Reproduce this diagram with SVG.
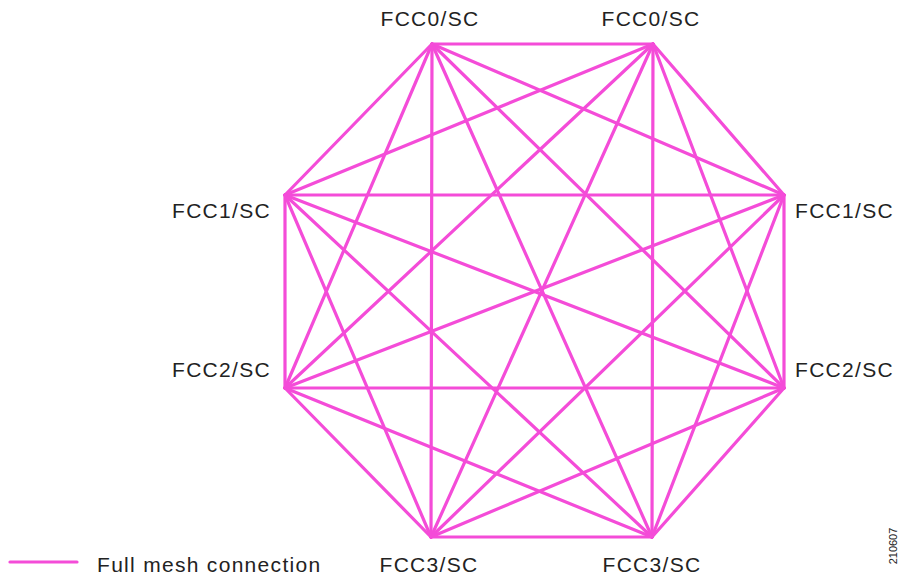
<svg xmlns="http://www.w3.org/2000/svg" width="901" height="577" viewBox="0 0 901 577">
<style>
.e{stroke:#f44cd8;stroke-width:3.2;stroke-linecap:round;fill:none}
.t{font-family:"Liberation Sans",Arial,sans-serif;font-size:21px;fill:#222;letter-spacing:1.3px}
</style>
<rect width="901" height="577" fill="#fff"/>
<g id="connectors">
<line class="e" x1="432" y1="44" x2="653" y2="44"/>
<line class="e" x1="432" y1="44" x2="784" y2="195"/>
<line class="e" x1="432" y1="44" x2="784" y2="388"/>
<line class="e" x1="432" y1="44" x2="652" y2="537"/>
<line class="e" x1="432" y1="44" x2="431" y2="537"/>
<line class="e" x1="432" y1="44" x2="285" y2="388"/>
<line class="e" x1="432" y1="44" x2="285" y2="195"/>
<line class="e" x1="653" y1="44" x2="784" y2="195"/>
<line class="e" x1="653" y1="44" x2="784" y2="388"/>
<line class="e" x1="653" y1="44" x2="652" y2="537"/>
<line class="e" x1="653" y1="44" x2="431" y2="537"/>
<line class="e" x1="653" y1="44" x2="285" y2="388"/>
<line class="e" x1="653" y1="44" x2="285" y2="195"/>
<line class="e" x1="784" y1="195" x2="784" y2="388"/>
<line class="e" x1="784" y1="195" x2="652" y2="537"/>
<line class="e" x1="784" y1="195" x2="431" y2="537"/>
<line class="e" x1="784" y1="195" x2="285" y2="388"/>
<line class="e" x1="784" y1="195" x2="285" y2="195"/>
<line class="e" x1="784" y1="388" x2="652" y2="537"/>
<line class="e" x1="784" y1="388" x2="431" y2="537"/>
<line class="e" x1="784" y1="388" x2="285" y2="388"/>
<line class="e" x1="784" y1="388" x2="285" y2="195"/>
<line class="e" x1="652" y1="537" x2="431" y2="537"/>
<line class="e" x1="652" y1="537" x2="285" y2="388"/>
<line class="e" x1="652" y1="537" x2="285" y2="195"/>
<line class="e" x1="431" y1="537" x2="285" y2="388"/>
<line class="e" x1="431" y1="537" x2="285" y2="195"/>
<line class="e" x1="285" y1="388" x2="285" y2="195"/>
</g>
<g id="n-fcc0-a"><text class="t" x="430" y="26" text-anchor="middle">FCC0/SC</text></g>
<g id="n-fcc0-b"><text class="t" x="651" y="26" text-anchor="middle">FCC0/SC</text></g>
<g id="n-fcc1-a"><text class="t" x="172" y="218">FCC1/SC</text></g>
<g id="n-fcc1-b"><text class="t" x="795" y="218">FCC1/SC</text></g>
<g id="n-fcc2-a"><text class="t" x="172" y="377">FCC2/SC</text></g>
<g id="n-fcc2-b"><text class="t" x="795" y="377">FCC2/SC</text></g>
<g id="n-fcc3-a"><text class="t" x="429" y="572" text-anchor="middle">FCC3/SC</text></g>
<g id="n-fcc3-b"><text class="t" x="652" y="572" text-anchor="middle">FCC3/SC</text></g>
<g id="legend">
<line class="e" x1="10" y1="562" x2="77" y2="562"/>
<text class="t" x="97" y="572">Full mesh connection</text>
</g>
<text x="897" y="546" transform="rotate(-90 897 546)" text-anchor="middle" font-family="Liberation Sans,Arial,sans-serif" font-size="11" fill="#222">210607</text>
</svg>
